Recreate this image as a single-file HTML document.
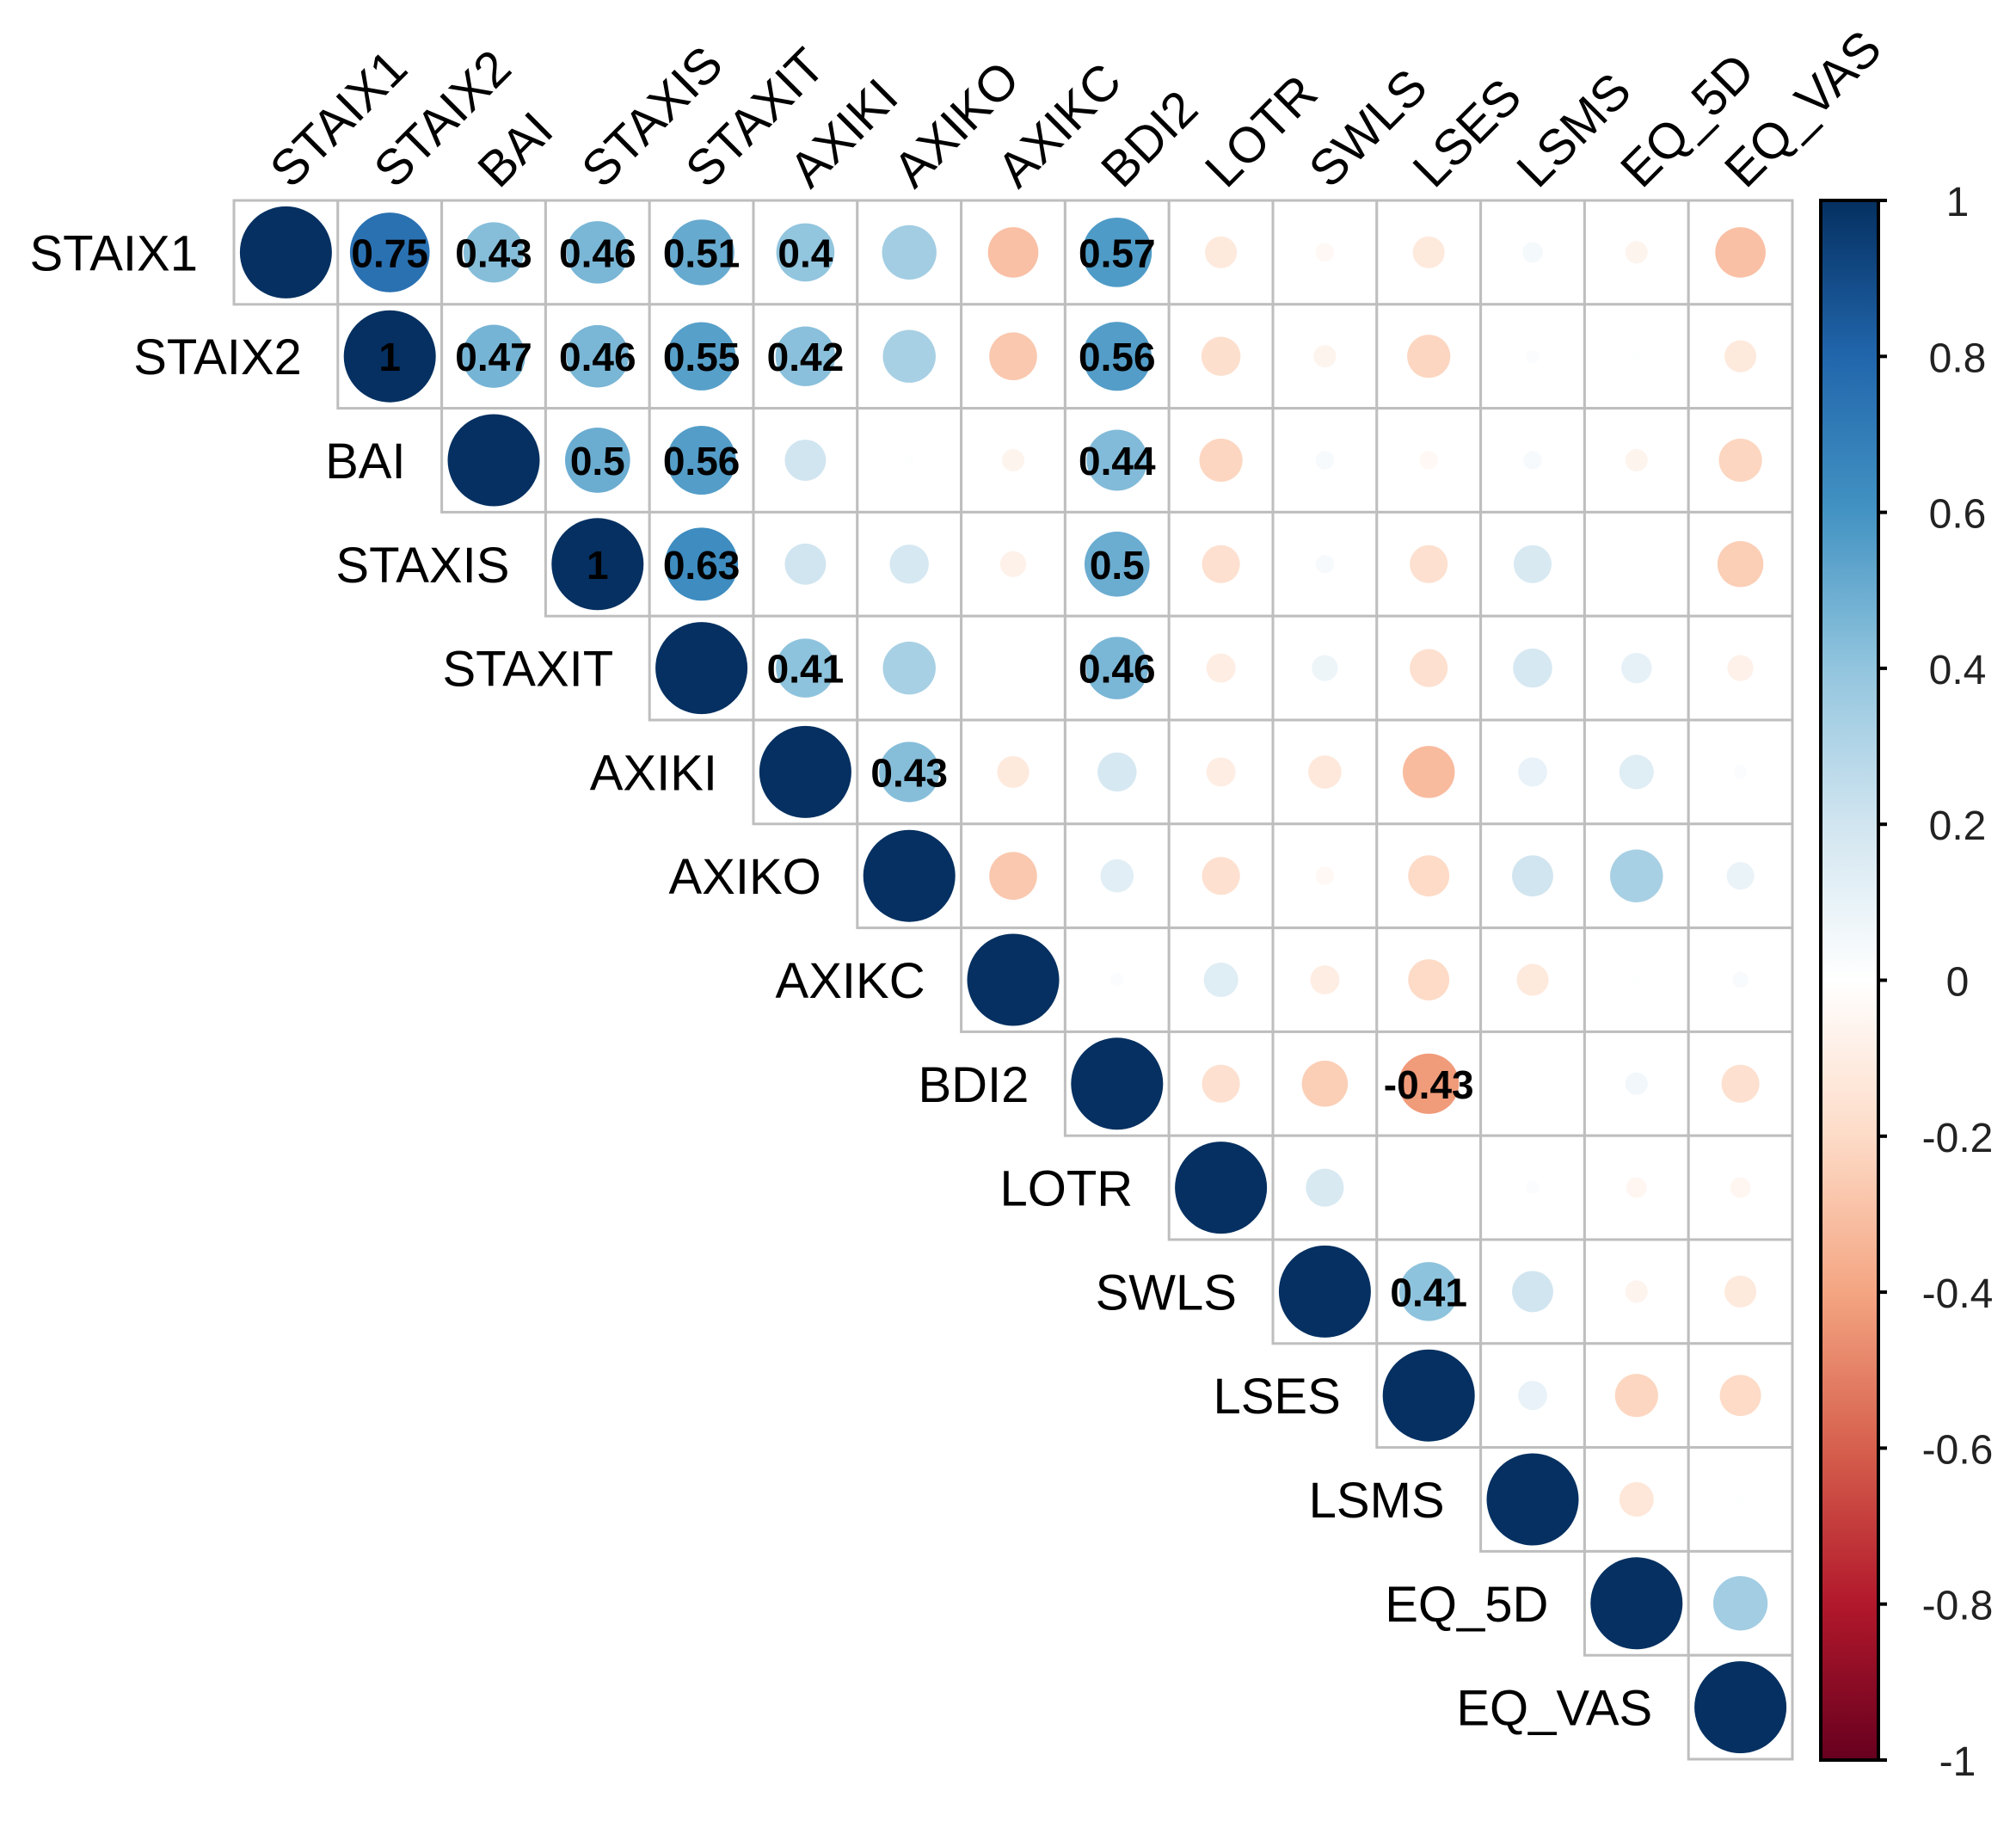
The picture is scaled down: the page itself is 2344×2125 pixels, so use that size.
<!DOCTYPE html>
<html><head><meta charset="utf-8"><style>
html,body{margin:0;padding:0;background:#fff;}
svg{display:block;font-family:"Liberation Sans",Arial,sans-serif;}
</style></head><body>
<svg id="chart" width="2344" height="2125" viewBox="0 0 2344 2125" xmlns="http://www.w3.org/2000/svg"></svg>
<script>
const variables = ["STAIX1","STAIX2","BAI","STAXIS","STAXIT","AXIKI","AXIKO","AXIKC","BDI2","LOTR","SWLS","LSES","LSMS","EQ_5D","EQ_VAS"];
// upper-triangle rows, each starting at the diagonal
const row0 = [1,0.75,0.43,0.46,0.51,0.4,0.35,-0.3,0.57,-0.12,-0.04,-0.12,0.05,-0.06,-0.3];
const row1 = [1,0.47,0.46,0.55,0.42,0.33,-0.27,0.56,-0.18,-0.06,-0.22,0.02,0.01,-0.12];
const row2 = [1,0.5,0.56,0.2,0.01,-0.06,0.44,-0.22,0.04,-0.04,0.04,-0.06,-0.22];
const row3 = [1,0.63,0.2,0.18,-0.08,0.5,-0.17,0.04,-0.17,0.17,0.0,-0.25];
const row4 = [1,0.41,0.33,0,0.46,-0.1,0.08,-0.17,0.18,0.11,-0.08];
const row5 = [1,0.43,-0.12,0.18,-0.1,-0.13,-0.32,0.1,0.14,0.02];
const row6 = [1,-0.27,0.13,-0.17,-0.04,-0.2,0.2,0.33,0.09];
const row7 = [1,0.02,0.14,-0.1,-0.2,-0.12,0.01,0.03];
const row8 = [1,-0.17,-0.25,-0.43,0,0.06,-0.17];
const row9 = [1,0.17,0,0.02,-0.05,-0.05];
const row10 = [1,0.41,0.2,-0.06,-0.12];
const row11 = [1,0.1,-0.22,-0.2];
const row12 = [1,-0.14,0.01];
const row13 = [1,0.35];
const row14 = [1];
const rows = [row0,row1,row2,row3,row4,row5,row6,row7,row8,row9,row10,row11,row12,row13,row14];
const labeledDiagonals = [1,3];
const colorTicks = [1,0.8,0.6,0.4,0.2,0,-0.2,-0.4,-0.6,-0.8,-1];
const labelThreshold = 0.4;

const NS="http://www.w3.org/2000/svg";
const svg=document.getElementById('chart');
const X0=272, Y0=233, CELL=120.8, N=variables.length, RMAX=53.5;
const xPos=j=>X0+j*CELL, yPos=i=>Y0+i*CELL;
const CB={x:2117,w:67,y0:233,y1:2046};
const cbY=v=>CB.y0+(1-v)/2*(CB.y1-CB.y0);
const stops=["#67001F","#B2182B","#D6604D","#F4A582","#FDDBC7","#FFFFFF","#D1E5F0","#92C5DE","#4393C3","#2166AC","#053061"];
function hex(h){return [1,3,5].map(k=>parseInt(h.substr(k,2),16));}
function color(v){const t=(v+1)/2*10;const i=Math.min(9,Math.floor(t));const f=t-i;const a=hex(stops[i]),b=hex(stops[i+1]);return 'rgb('+a.map((c,k)=>Math.round(c+(b[k]-c)*f)).join(',')+')';}
function mk(tag,attrs){const e=document.createElementNS(NS,tag);for(const k in attrs)e.setAttribute(k,attrs[k]);svg.appendChild(e);return e;}

rows.forEach((r,i)=>{r.forEach((v,k)=>{const j=i+k;
  const c=mk('rect',{x:xPos(j),y:yPos(i),width:CELL,height:CELL,fill:'#fff',stroke:'#bebebe','stroke-width':3});
  
  
});});
rows.forEach((r,i)=>{r.forEach((v,k)=>{const j=i+k;
  const cx=xPos(j)+CELL/2, cy=yPos(i)+CELL/2;
  const c=mk('circle',{cx:cx,cy:cy,r:RMAX*Math.sqrt(Math.abs(v)),fill:color(v)});
  
  
  const show=(k>0&&Math.abs(v)>=labelThreshold)||(k===0&&labeledDiagonals.includes(i));
  if(show){const t=mk('text',{x:cx,y:cy+17,'text-anchor':'middle','font-size':46,'font-weight':'bold',fill:'#000'});
    t.textContent=String(Math.round(v*100)/100);
    
    }
});});
variables.forEach((n,i)=>{const t=mk('text',{x:xPos(i)-42,y:yPos(i)+CELL/2+21,'text-anchor':'end','font-size':58,fill:'#000'});
  t.textContent=n;
  
  
});
variables.forEach((n,j)=>{const x=xPos(j)+CELL/2+6,y=Y0-12;
  const t=mk('text',{x:x,y:y,transform:'rotate(-45 '+x+' '+y+')','font-size':58,fill:'#000'});
  t.textContent=n;
  
  
});
const defs=mk('defs',{});
const lg=document.createElementNS(NS,'linearGradient');lg.setAttribute('id','cbg');lg.setAttribute('x1','0');lg.setAttribute('y1','0');lg.setAttribute('x2','0');lg.setAttribute('y2','1');
stops.slice().reverse().forEach((s,k)=>{const st=document.createElementNS(NS,'stop');st.setAttribute('offset',k/10);st.setAttribute('stop-color',s);lg.appendChild(st);});
defs.appendChild(lg);
const bar=mk('rect',{x:CB.x,y:CB.y0,width:CB.w,height:CB.y1-CB.y0,fill:'url(#cbg)',stroke:'#000','stroke-width':4});


colorTicks.forEach(v=>{const y=cbY(v);
  const l=mk('line',{x1:CB.x+CB.w,x2:CB.x+CB.w+10,y1:y,y2:y,stroke:'#000','stroke-width':4});
  
  
  const t=mk('text',{x:2276,y:y+18,'text-anchor':'middle','font-size':48,fill:'#222'});
  t.textContent=String(v);
  
  
});
</script>
</body></html>
